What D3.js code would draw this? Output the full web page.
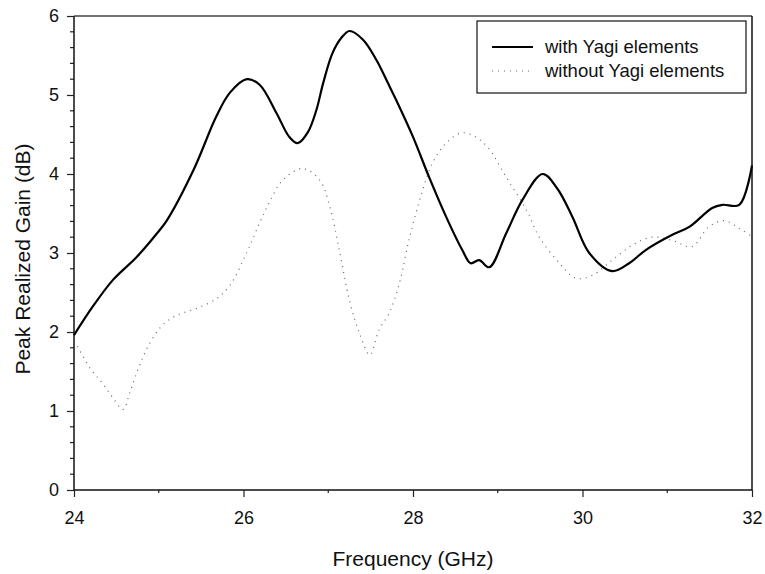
<!DOCTYPE html>
<html><head><meta charset="utf-8">
<script src="https://cdn.jsdelivr.net/npm/d3@7"></script>
<style>body{margin:0;background:#fff}svg{display:block}text{font-family:Arial,"Liberation Sans",sans-serif;fill:#111}</style>
</head><body>
<script>
const withFreq = [24,24.22,24.46,24.74,24.98,25.1,25.41,25.68,25.84,26.04,26.19,26.39,26.54,26.64,26.76,26.86,26.94,27.05,27.16,27.25,27.41,27.57,27.7,27.8,28.0,28.19,28.39,28.58,28.68,28.78,28.9,29.1,29.29,29.53,29.7,29.88,30.08,30.35,30.55,30.75,31.06,31.26,31.53,31.65,31.85,32];
const withGain = [1.96,2.32,2.66,2.95,3.25,3.42,4.05,4.73,5.03,5.2,5.13,4.77,4.47,4.39,4.53,4.81,5.15,5.53,5.73,5.81,5.7,5.44,5.16,4.94,4.47,3.96,3.46,3.04,2.87,2.91,2.82,3.25,3.67,4.0,3.82,3.46,3.0,2.77,2.87,3.04,3.23,3.33,3.57,3.61,3.61,4.11];
const withoutFreq = [24,24.05,24.19,24.33,24.45,24.58,24.66,24.76,24.87,25.03,25.21,25.45,25.68,25.84,26.04,26.19,26.31,26.46,26.7,26.9,27.02,27.13,27.25,27.37,27.49,27.6,27.72,27.84,27.96,28.11,28.23,28.39,28.57,28.72,28.88,29.1,29.34,29.49,29.73,29.92,30.12,30.35,30.59,30.82,31.06,31.29,31.49,31.67,31.85,32];
const withoutGain = [1.88,1.8,1.54,1.36,1.18,1.02,1.24,1.54,1.81,2.07,2.21,2.3,2.42,2.59,3.01,3.38,3.65,3.92,4.07,3.92,3.58,3.04,2.4,1.98,1.71,2.03,2.24,2.62,3.2,3.78,4.14,4.39,4.52,4.48,4.34,3.96,3.54,3.2,2.87,2.68,2.72,2.91,3.1,3.2,3.16,3.08,3.33,3.41,3.31,3.21];
const xTicks = [24,26,28,30,32];
const yTicks = [0,1,2,3,4,5,6];
const seriesNames = ["with Yagi elements","without Yagi elements"];

const W=765,H=574, L=74, R=752, T=16, B=490;
const svg=d3.select("body").append("svg").attr("width",W).attr("height",H);
const x=d3.scaleLinear().domain([24,32]).range([L,R]);
const y=d3.scaleLinear().domain([0,6]).range([B,T]);

// frame top/right
svg.append("line").attr("x1",L).attr("x2",R).attr("y1",T).attr("y2",T).attr("stroke","#444").attr("stroke-width",1.5);
svg.append("line").attr("x1",R).attr("x2",R).attr("y1",T).attr("y2",B).attr("stroke","#111").attr("stroke-width",1.5);

// minor ticks
const yMinor=d3.range(0,6.001,0.2).map(v=>+v.toFixed(1)).filter(v=>!yTicks.includes(v));
svg.append("g").selectAll("line").data(yMinor).join("line")
  .attr("x1",L-4).attr("x2",L).attr("y1",d=>y(d)).attr("y2",d=>y(d)).attr("stroke","#222").attr("stroke-width",1.2);
const xMinor=[25,27,29,31];
svg.append("g").selectAll("line").data(xMinor).join("line")
  .attr("x1",d=>x(d)).attr("x2",d=>x(d)).attr("y1",B).attr("y2",B+3).attr("stroke","#222").attr("stroke-width",1.2);

const ya=svg.append("g").attr("transform",`translate(${L},0)`).call(d3.axisLeft(y).tickValues(yTicks).tickSize(7).tickPadding(8).tickFormat(d3.format("d")));
const xa=svg.append("g").attr("transform",`translate(0,${B})`).call(d3.axisBottom(x).tickValues(xTicks).tickSize(7).tickPadding(14).tickFormat(d3.format("d")));
[ya,xa].forEach(a=>{a.select(".domain").attr("stroke","#111").attr("stroke-width",1.5);a.selectAll(".tick line").attr("stroke","#222").attr("stroke-width",1.2);a.selectAll("text").attr("font-size",18).style("fill","#111");});
xa.selectAll(".domain").attr("d",`M${L},0H${R}`);
ya.selectAll(".domain").attr("d",`M0,${T}V${B}`);

const line=d3.line().x(d=>x(d[0])).y(d=>y(d[1])).curve(d3.curveCatmullRom.alpha(0.5));
svg.append("path").datum(withoutFreq.map((f,i)=>[f,withoutGain[i]])).attr("d",line)
  .attr("fill","none").attr("stroke","#666").attr("stroke-width",1.2).attr("stroke-dasharray","1,5");
svg.append("path").datum(withFreq.map((f,i)=>[f,withGain[i]])).attr("d",line)
  .attr("fill","none").attr("stroke","#000").attr("stroke-width",2.2);

// legend
const lg=svg.append("g");
lg.append("rect").attr("x",477).attr("y",21).attr("width",269).attr("height",72).attr("fill","#fff").attr("stroke","#111").attr("stroke-width",1.2);
lg.append("line").attr("x1",492).attr("x2",533).attr("y1",47).attr("y2",47).attr("stroke","#000").attr("stroke-width",2.2);
lg.append("line").attr("x1",492).attr("x2",533).attr("y1",71).attr("y2",71).attr("stroke","#666").attr("stroke-width",1.2).attr("stroke-dasharray","1,5");
lg.selectAll("text").data(seriesNames).join("text").attr("x",545).attr("y",(d,i)=>47+i*24).attr("dy","0.35em").attr("font-size",18.5).text(d=>d);

svg.append("text").attr("x",413).attr("y",566).attr("text-anchor","middle").attr("font-size",21).text("Frequency (GHz)");
svg.append("text").attr("transform",`translate(30,259) rotate(-90)`).attr("text-anchor","middle").attr("font-size",21).text("Peak Realized Gain (dB)");
</script>
</body></html>
